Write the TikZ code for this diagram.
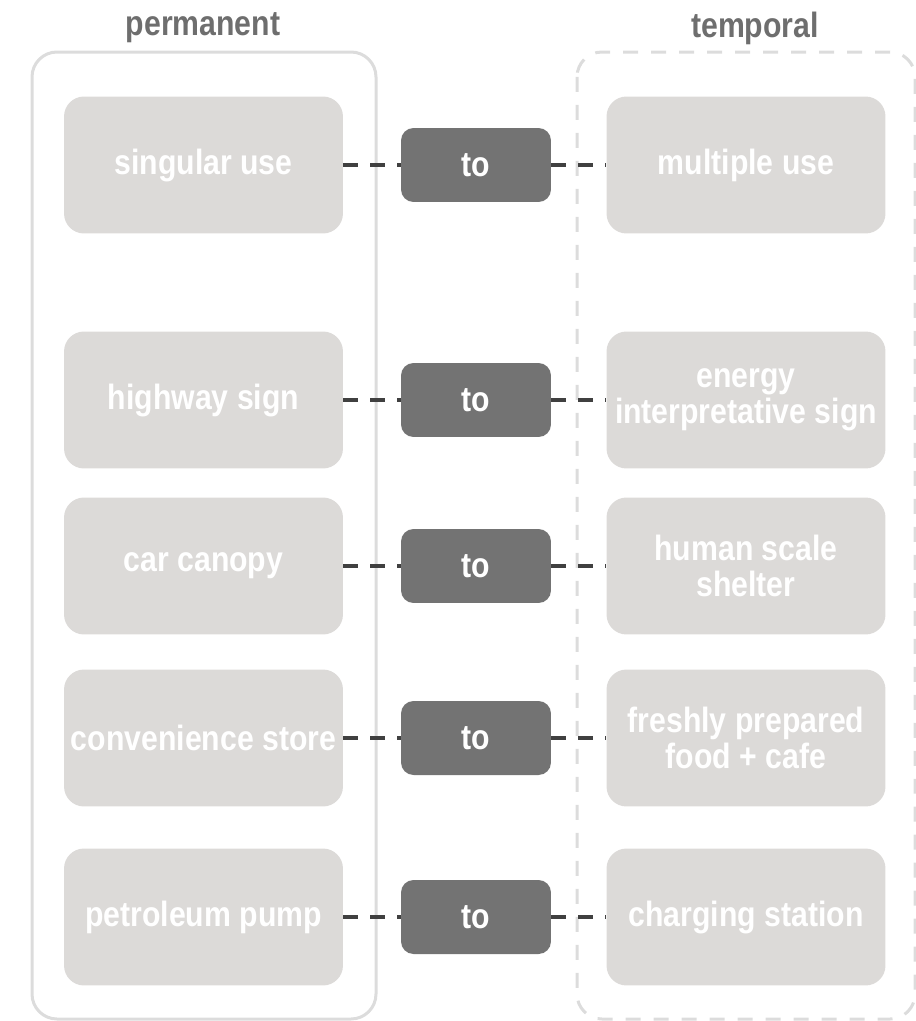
\documentclass[tikz,border=0pt]{standalone}
\usepackage{fontspec}
\setmainfont{Liberation Sans}[FakeStretch=0.86]
\usepackage{tikz}
\usetikzlibrary{positioning,backgrounds}
\definecolor{boxgray}{HTML}{DCDAD8}
\definecolor{togray}{HTML}{737373}
\definecolor{linkgray}{HTML}{404040}
\definecolor{framegray}{HTML}{DCDCDC}
\definecolor{headgray}{HTML}{6E6E6E}

\begin{document}
\begin{tikzpicture}[
  x=0.02cm, y=-0.02cm,
  font=\bfseries\fontsize{20}{20.5}\selectfont,
  item/.style={rounded corners=0.4cm,fill=boxgray,text=white,align=center,minimum width=5.58cm,minimum height=2.74cm,inner sep=1pt},
  tobox/.style={rounded corners=0.25cm,fill=togray,text=white,minimum width=3cm,minimum height=1.48cm},
  head/.style={text=headgray},
  frame/.style={rounded corners=0.5cm,draw=framegray,line width=0.06cm},
  link/.style={draw=linkgray,line width=0.08cm,dash pattern=on 0.3cm off 0.24cm}
]
\useasboundingbox (0,0) rectangle (916,1021);

\node[head] (perm) at (203,28) {permanent};
\node[head] (temp) at (755,28) {temporal};

% left column
\node[item] (single) at (203.5,165) {singular use};
\node[item] (highway) at (203.5,400) {highway sign};
\node[item] (canopy) at (203.5,566) {car canopy};
\node[item] (store) at (203.5,738) {convenience store};
\node[item] (pump) at (203.5,917) {petroleum pump};

% the "to" boxes
\node[tobox] (to1) at (476,165) {to};
\node[tobox] (to2) at (476,400) {to};
\node[tobox] (to3) at (476,566) {to};
\node[tobox] (to4) at (476,738) {to};
\node[tobox] (to5) at (476,917) {to};

% right column
\node[item] (multi) at (746,165) {multiple use};
\node[item] (energy) at (746,400) {energy\\interpretative sign};
\node[item] (shelter) at (746,566) {human scale\\shelter};
\node[item] (food) at (746,738) {freshly prepared\\food + cafe};
\node[item] (charge) at (746,917) {charging station};

\foreach \a/\b/\c in {single/to1/multi,highway/to2/energy,canopy/to3/shelter,store/to4/food,pump/to5/charge}{
  \draw[link] (\a) -- (\b);
  \draw[link] (\b) -- (\c);
}

\begin{scope}[on background layer]
\draw[frame] (32,52) rectangle (376,1019);
\draw[frame,dashed,dash pattern=on 0.3cm off 0.26cm] (577,52) rectangle (915,1019);
\end{scope}
\end{tikzpicture}
\end{document}
